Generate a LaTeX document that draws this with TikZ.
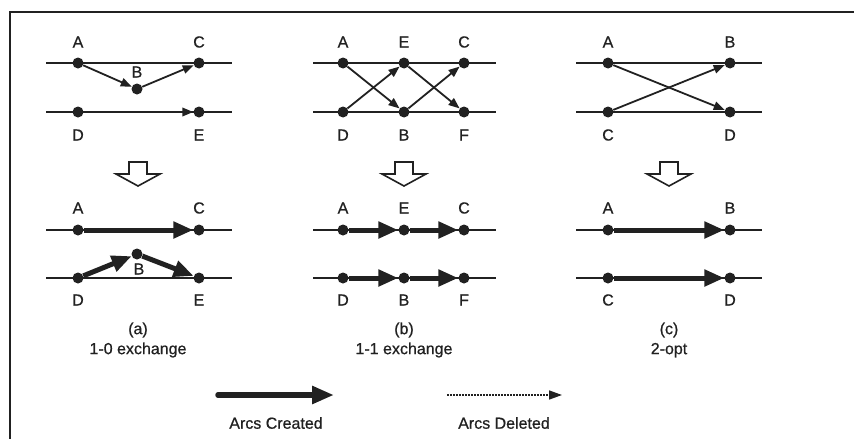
\documentclass[tikz,border=0pt]{standalone}
\usepackage{fontspec}
\setmainfont{Liberation Sans}
\newfontfamily\scanfont{Liberation Sans}[FakeBold=0.7]
\usetikzlibrary{arrows.meta}
\definecolor{ink}{gray}{0.13}
\tikzset{
  dot/.style={circle,fill=ink,draw=none,inner sep=0pt,minimum size=11pt},
  lbl/.style={text=ink,font=\scanfont\fontsize{16}{18}\selectfont,inner sep=0pt},
  track/.style={draw=ink,line width=1.7pt},
  oldarc/.style={draw=ink,line width=1.8pt,-{Triangle[length=11pt,width=8.5pt]}},
  gonearc/.style={draw=ink,line width=2pt,dash pattern=on 2pt off 1pt,-{Triangle[length=11pt,width=8.5pt]}},
  newarc/.style={draw=ink,line width=5pt,-{Triangle[length=20pt,width=16pt]}},
  hollow/.style={draw=ink,line width=1.6pt,fill=white,line join=miter},
  frame/.style={draw=ink,line width=1.8pt}
}
\begin{document}
\begin{tikzpicture}[x=1pt,y=-1pt]
\useasboundingbox (0,0) rectangle (854,439);
\fill[white] (0,0) rectangle (854,439);
% frame (cropped)
\coordinate (fTR) at (854,12);
\coordinate (fTL) at (10,12);
\coordinate (fBL) at (10,439);
\draw[frame] (fTR) -- (fTL) -- (fBL);

% ---------------- panel (a) ----------------
% before
\coordinate (a1L) at (46,63);  \coordinate (a1R) at (232,63);
\coordinate (a2L) at (46,112); \coordinate (a2R) at (232,112);
\draw[track] (a1L) -- (a1R);
\draw[track] (a2L) -- (a2R);
\node[dot] (aA) at (78,63) {};
\node[dot] (aC) at (199,63) {};
\node[dot] (aB) at (137,89) {};
\node[dot] (aD) at (78,112) {};
\node[dot] (aE) at (199,112) {};
\node[lbl] (aAt) at (78,42) {A};
\node[lbl] (aCt) at (199,42) {C};
\node[lbl] (aBt) at (137,72) {B};
\node[lbl] (aDt) at (78,135) {D};
\node[lbl] (aEt) at (199,135) {E};
\draw[oldarc] (aA) -- (aB);
\draw[oldarc] (aB) -- (aC);
\draw[gonearc] (aD) -- (aE);
% after
\coordinate (a3L) at (46,230); \coordinate (a3R) at (232,230);
\coordinate (a4L) at (46,278); \coordinate (a4R) at (232,278);
\draw[track] (a3L) -- (a3R);
\draw[track] (a4L) -- (a4R);
\node[dot] (aA2) at (78,230) {};
\node[dot] (aC2) at (199,230) {};
\node[dot] (aB2) at (137,254) {};
\node[dot] (aD2) at (78,278) {};
\node[dot] (aE2) at (199,278) {};
\node[lbl] (aA2t) at (78,208) {A};
\node[lbl] (aC2t) at (199,208) {C};
\node[lbl] (aB2t) at (139,269) {B};
\node[lbl] (aD2t) at (78,300) {D};
\node[lbl] (aE2t) at (199,300) {E};
\draw[newarc] (aA2) -- (aC2);
\draw[newarc] (aD2) -- (aB2);
\draw[newarc] (aB2) -- (aE2);
\node[lbl,align=center] (acap) at (138,340) {(a)\\[2pt]1-0 exchange};

% ---------------- panel (b) ----------------
\coordinate (b1L) at (313,63);  \coordinate (b1R) at (496,63);
\coordinate (b2L) at (313,112); \coordinate (b2R) at (496,112);
\draw[track] (b1L) -- (b1R);
\draw[track] (b2L) -- (b2R);
\node[dot] (bA) at (343,63) {};
\node[dot] (bE) at (404,63) {};
\node[dot] (bC) at (464,63) {};
\node[dot] (bD) at (343,112) {};
\node[dot] (bB) at (404,112) {};
\node[dot] (bF) at (464,112) {};
\node[lbl] (bAt) at (343,42) {A};
\node[lbl] (bEt) at (404,42) {E};
\node[lbl] (bCt) at (464,42) {C};
\node[lbl] (bDt) at (343,135) {D};
\node[lbl] (bBt) at (404,135) {B};
\node[lbl] (bFt) at (464,135) {F};
\draw[oldarc] (bA) -- (bB);
\draw[oldarc] (bD) -- (bE);
\draw[oldarc] (bE) -- (bF);
\draw[oldarc] (bB) -- (bC);
% after
\coordinate (b3L) at (313,230); \coordinate (b3R) at (496,230);
\coordinate (b4L) at (313,278); \coordinate (b4R) at (496,278);
\draw[track] (b3L) -- (b3R);
\draw[track] (b4L) -- (b4R);
\node[dot] (bA2) at (343,230) {};
\node[dot] (bE2) at (404,230) {};
\node[dot] (bC2) at (464,230) {};
\node[dot] (bD2) at (343,278) {};
\node[dot] (bB2) at (404,278) {};
\node[dot] (bF2) at (464,278) {};
\node[lbl] (bA2t) at (343,208) {A};
\node[lbl] (bE2t) at (404,208) {E};
\node[lbl] (bC2t) at (464,208) {C};
\node[lbl] (bD2t) at (343,300) {D};
\node[lbl] (bB2t) at (404,300) {B};
\node[lbl] (bF2t) at (464,300) {F};
\draw[newarc] (bA2) -- (bE2);
\draw[newarc] (bE2) -- (bC2);
\draw[newarc] (bD2) -- (bB2);
\draw[newarc] (bB2) -- (bF2);
\node[lbl,align=center] (bcap) at (404,340) {(b)\\[2pt]1-1 exchange};

% ---------------- panel (c) ----------------
\coordinate (c1L) at (576,63);  \coordinate (c1R) at (762,63);
\coordinate (c2L) at (576,112); \coordinate (c2R) at (762,112);
\draw[track] (c1L) -- (c1R);
\draw[track] (c2L) -- (c2R);
\node[dot] (cA) at (608,63) {};
\node[dot] (cB) at (730,63) {};
\node[dot] (cC) at (608,112) {};
\node[dot] (cD) at (730,112) {};
\node[lbl] (cAt) at (608,42) {A};
\node[lbl] (cBt) at (730,42) {B};
\node[lbl] (cCt) at (608,135) {C};
\node[lbl] (cDt) at (730,135) {D};
\draw[oldarc] (cA) -- (cD);
\draw[oldarc] (cC) -- (cB);
% after
\coordinate (c3L) at (576,230); \coordinate (c3R) at (762,230);
\coordinate (c4L) at (576,278); \coordinate (c4R) at (762,278);
\draw[track] (c3L) -- (c3R);
\draw[track] (c4L) -- (c4R);
\node[dot] (cA2) at (608,230) {};
\node[dot] (cB2) at (730,230) {};
\node[dot] (cC2) at (608,278) {};
\node[dot] (cD2) at (730,278) {};
\node[lbl] (cA2t) at (608,208) {A};
\node[lbl] (cB2t) at (730,208) {B};
\node[lbl] (cC2t) at (608,300) {C};
\node[lbl] (cD2t) at (730,300) {D};
\draw[newarc] (cA2) -- (cB2);
\draw[newarc] (cC2) -- (cD2);
\node[lbl,align=center] (ccap) at (669,340) {(c)\\[2pt]2-opt};

% ---------------- hollow down arrows ----------------
\foreach \cx in {138,404,669}{
  \draw[hollow] (\cx-9,162) -- (\cx+9,162) -- (\cx+9,174) -- (\cx+22,174)
     -- (\cx,186) -- (\cx-22,174) -- (\cx-9,174) -- cycle;
}

% ---------------- legend ----------------
\coordinate (l1s) at (218,395); \coordinate (l1e) at (334,395);
\coordinate (l2s) at (447,395); \coordinate (l2e) at (562,395);
\draw[newarc,line width=5.5pt,line cap=round,-{Triangle[length=22pt,width=17pt]}] (l1s) -- (l1e);
\draw[gonearc,line width=1.6pt,-{Triangle[length=13pt,width=9pt]}] (l2s) -- (l2e);
\node[lbl] (lt1) at (276,423) {Arcs Created};
\node[lbl] (lt2) at (504,423) {Arcs Deleted};
\end{tikzpicture}
\end{document}
